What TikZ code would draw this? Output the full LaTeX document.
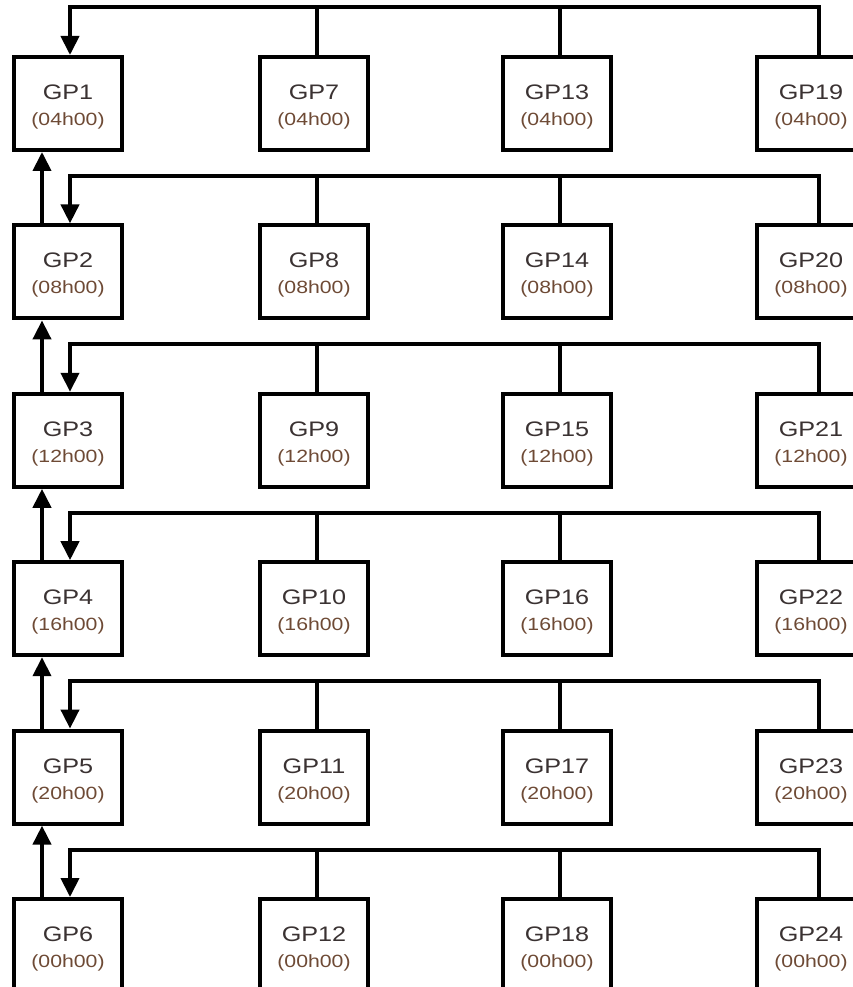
\documentclass[tikz,border=0pt]{standalone}
\usepackage{fontspec}
\setmainfont{Liberation Sans}[FakeStretch=1.2]
\usetikzlibrary{arrows.meta,calc}
\definecolor{gptext}{HTML}{3A3232}
\definecolor{hrtext}{HTML}{6E4A35}
\newcommand\gplabel[2]{\rule{0pt}{21.5pt}{\color{gptext}#1}\\{\fontsize{17.7}{26}\selectfont\color{hrtext}#2}}
\begin{document}
\begin{tikzpicture}[x=1pt,y=1pt,
  gpbox/.style={draw, line width=4pt, minimum width=108pt, minimum height=93pt,
    inner sep=0pt, align=center, fill=white,
    font=\fontsize{21}{26}\selectfont},
  link/.style={line width=4pt, line join=miter},
  tip/.style={-{Triangle[width=18pt,length=19pt]}}]
\useasboundingbox (0,0) rectangle (853,-987);
\clip (0,0) rectangle (853,-987);
\fill[white] (0,0) rectangle (853,-987);

% six rows of four groups
\foreach \hr [count=\r] in {04h00,08h00,12h00,16h00,20h00,00h00} {
  \foreach \cx [count=\c from 0] in {68,314,557,811} {
    \pgfmathtruncatemacro\n{6*\c+\r}
    \node[gpbox] (g\n) at (\cx, {-(55+168.4*(\r-1)+48.5)}) {\gplabel{GP\n}{(\hr)}};
  }
}

% each row feeds its first group through a common bus
\foreach \r in {1,...,6} {
  \pgfmathtruncatemacro\d{18+\r}
  \pgfmathtruncatemacro\b{6+\r}
  \pgfmathtruncatemacro\e{12+\r}
  \draw[link,tip] ([xshift=8pt]g\d.north) -- ++(0,47.5) -| ([xshift=2pt]g\r.north);
  \draw[link] ([xshift=3pt]g\b.north) -- ++(0,47.5);
  \draw[link] ([xshift=3pt]g\e.north) -- ++(0,47.5);
}

% first column chains upwards
\foreach \r in {1,...,5} {
  \pgfmathtruncatemacro\s{\r+1}
  \draw[link,tip] ([xshift=-26pt]g\s.north) -- ([xshift=-26pt]g\r.south);
}
\end{tikzpicture}
\end{document}
